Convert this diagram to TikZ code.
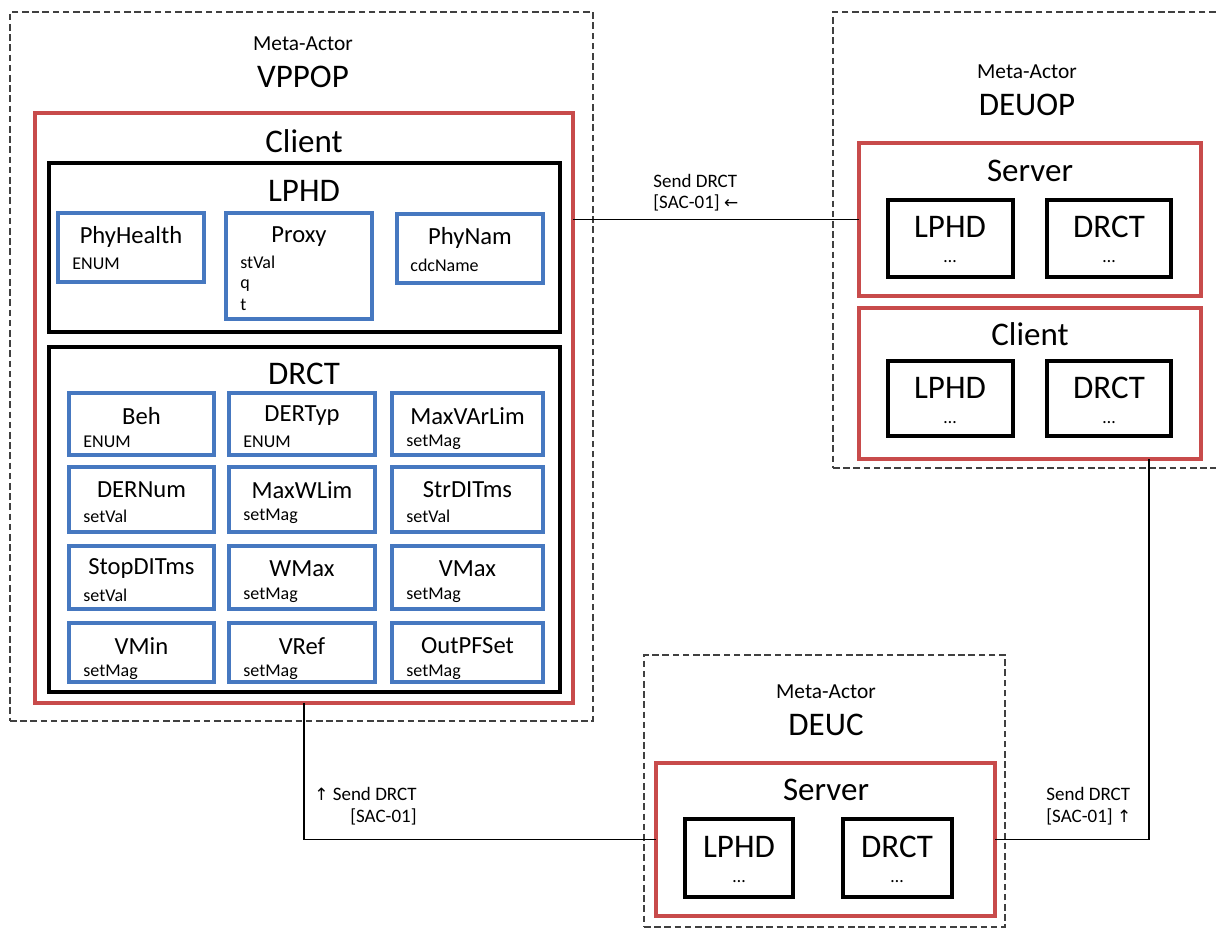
\documentclass[tikz,border=0pt]{standalone}
\usepackage{fontspec}
\setmainfont{Carlito}
\newfontfamily\symfont{DejaVu Sans}
\definecolor{boxred}{RGB}{200,75,75}
\definecolor{boxblue}{RGB}{70,120,192}
\newcommand\bx[6]{\node[#1,minimum width={(#5-#3)*0.5pt},minimum height={(#6-#4)*0.5pt}] (#2) at (#3,#4) {};}
\newcommand\cell[7]{\bx{bluebox}{#1}{#2}{#3}{#4}{#5}%
  \node[ttl] (#1t) at ({(#2+#4)/2},{#3+23}) {#6};%
  \node[sub] (#1s) at ({#2+14},{#3+49}) {#7};}
\begin{document}
\begin{tikzpicture}[x=0.5pt,y=-0.5pt,
  base/.style={inner sep=0pt,outer sep=0pt,anchor=north west},
  dashbox/.style={base,draw=black!75,line width=1pt,dash pattern=on 3.3pt off 1.8pt},
  redbox/.style={base,draw=boxred,line width=1.65pt},
  blkbox/.style={base,draw=black,line width=1.85pt},
  bluebox/.style={base,draw=boxblue,line width=1.65pt},
  big/.style={font=\fontsize{16.5}{19}\selectfont,inner sep=0pt},
  meta/.style={font=\fontsize{10.7}{13}\selectfont,inner sep=0pt},
  ttl/.style={font=\fontsize{12.3}{15}\selectfont,inner sep=0pt},
  sub/.style={font=\fontsize{9}{11}\selectfont,inner sep=0pt,anchor=west},
  subb/.style={font=\fontsize{9}{11}\selectfont,inner sep=0pt,anchor=base west},
  dots/.style={font=\fontsize{9}{11}\selectfont,inner sep=0pt},
  lbl/.style={font=\fontsize{9.5}{11}\selectfont,inner sep=0pt},
  wire/.style={draw=black,line width=0.9pt}]
\useasboundingbox (0,0) rectangle (1216,929);
% ---------- VPPOP ----------
\bx{dashbox}{vppop}{10}{12}{593}{721}
\node[meta] (vmeta) at (303,44) {Meta-Actor};
\node[big] (vname) at (303,77) {VPPOP};
\bx{redbox}{vclient}{35}{113}{573}{703}
\node[big] (vclientt) at (304,141) {Client};
\bx{blkbox}{vlphd}{49}{163}{560}{332}
\node[big] (vlphdt) at (304,191) {LPHD};
\bx{bluebox}{phyh}{58}{213}{204}{282}
\node[ttl] (phyht) at (131,237) {PhyHealth};
\node[sub] (phyhs) at (72,264) {ENUM};
\bx{bluebox}{proxy}{226}{213}{372}{319}
\node[ttl] (proxyt) at (299,237) {Proxy};
\node[subb] (proxys1) at (240,269) {stVal};
\node[subb] (proxys2) at (240,289) {q};
\node[subb] (proxys3) at (240,311) {t};
\bx{bluebox}{phyn}{397}{214}{543}{283}
\node[ttl] (phynt) at (470,238) {PhyNam};
\node[sub] (phyns) at (410,265) {cdcName};
\bx{blkbox}{vdrct}{49}{347}{560}{692}
\node[big] (vdrctt) at (304,374) {DRCT};
\cell{beh}{69}{393}{214}{455}{Beh}{ENUM}
\cell{dertyp}{229}{393}{375}{455}{DERTyp}{ENUM}
\cell{maxvar}{392}{393}{543}{455}{MaxVArLim}{setMag}
\cell{dernum}{69}{467}{214}{532}{DERNum}{setVal}
\cell{maxw}{229}{467}{375}{532}{MaxWLim}{setMag}
\cell{strdi}{392}{467}{543}{532}{StrDITms}{setVal}
\cell{stopdi}{69}{546}{214}{609}{StopDITms}{setVal}
\cell{wmax}{229}{546}{375}{609}{WMax}{setMag}
\cell{vmax}{392}{546}{543}{609}{VMax}{setMag}
\cell{vmin}{69}{623}{214}{682}{VMin}{setMag}
\cell{vref}{229}{623}{375}{682}{VRef}{setMag}
\cell{outpf}{392}{623}{543}{682}{OutPFSet}{setMag}
% ---------- DEUOP ----------
\bx{dashbox}{deuop}{833}{12}{1240}{468}
\node[meta] (dmeta) at (1027,72) {Meta-Actor};
\node[big] (dname) at (1027,105) {DEUOP};
\bx{redbox}{dserver}{859}{143}{1201}{296}
\node[big] (dservert) at (1030,171) {Server};
\bx{blkbox}{dslphd}{888}{200}{1013}{277}
\node[big] (dslphdt) at (950,227) {LPHD};
\node[dots] (dslphdd) at (950,262) {…};
\bx{blkbox}{dsdrct}{1047}{200}{1171}{277}
\node[big] (dsdrctt) at (1109,227) {DRCT};
\node[dots] (dsdrctd) at (1109,262) {…};
\bx{redbox}{dclient}{859}{308}{1201}{459}
\node[big] (dclientt) at (1030,334) {Client};
\bx{blkbox}{dclphd}{888}{361}{1013}{436}
\node[big] (dclphdt) at (950,388) {LPHD};
\node[dots] (dclphdd) at (950,423) {…};
\bx{blkbox}{dcdrct}{1047}{361}{1171}{436}
\node[big] (dcdrctt) at (1109,388) {DRCT};
\node[dots] (dcdrctd) at (1109,423) {…};
% ---------- DEUC ----------
\bx{dashbox}{deuc}{644}{655}{1005}{927}
\node[meta] (umeta) at (826,692) {Meta-Actor};
\node[big] (uname) at (826,725) {DEUC};
\bx{redbox}{userver}{656}{763}{995}{916}
\node[big] (userverst) at (826,790) {Server};
\bx{blkbox}{ulphd}{685}{819}{793}{897}
\node[big] (ulphdt) at (739,847) {LPHD};
\node[dots] (ulphdd) at (739,882) {…};
\bx{blkbox}{udrct}{843}{819}{952}{897}
\node[big] (udrctt) at (897,847) {DRCT};
\node[dots] (udrctd) at (897,882) {…};
% ---------- connectors ----------
\draw[wire] (dserver.west) -- (dserver.west -| vclient.east);
\draw[wire] (vclient.south) |- (userver.west);
\draw[wire] ([xshift=-26pt]dclient.south east) |- (userver.east);
\node[lbl,anchor=west] (l1a) at (653,181) {Send DRCT};
\node[lbl,anchor=west] (l1b) at (653,203) {[SAC-01] {\symfont\fontsize{8.5}{10}\selectfont ←}};
\node[lbl,anchor=east] (l2a) at (417,794) {{\symfont\fontsize{8.5}{10}\selectfont ↑} Send DRCT};
\node[lbl,anchor=east] (l2b) at (417,817) {[SAC-01]};
\node[lbl,anchor=west] (l3a) at (1046,794) {Send DRCT};
\node[lbl,anchor=west] (l3b) at (1046,817) {[SAC-01] {\symfont\fontsize{8.5}{10}\selectfont ↑}};
\end{tikzpicture}
\end{document}
